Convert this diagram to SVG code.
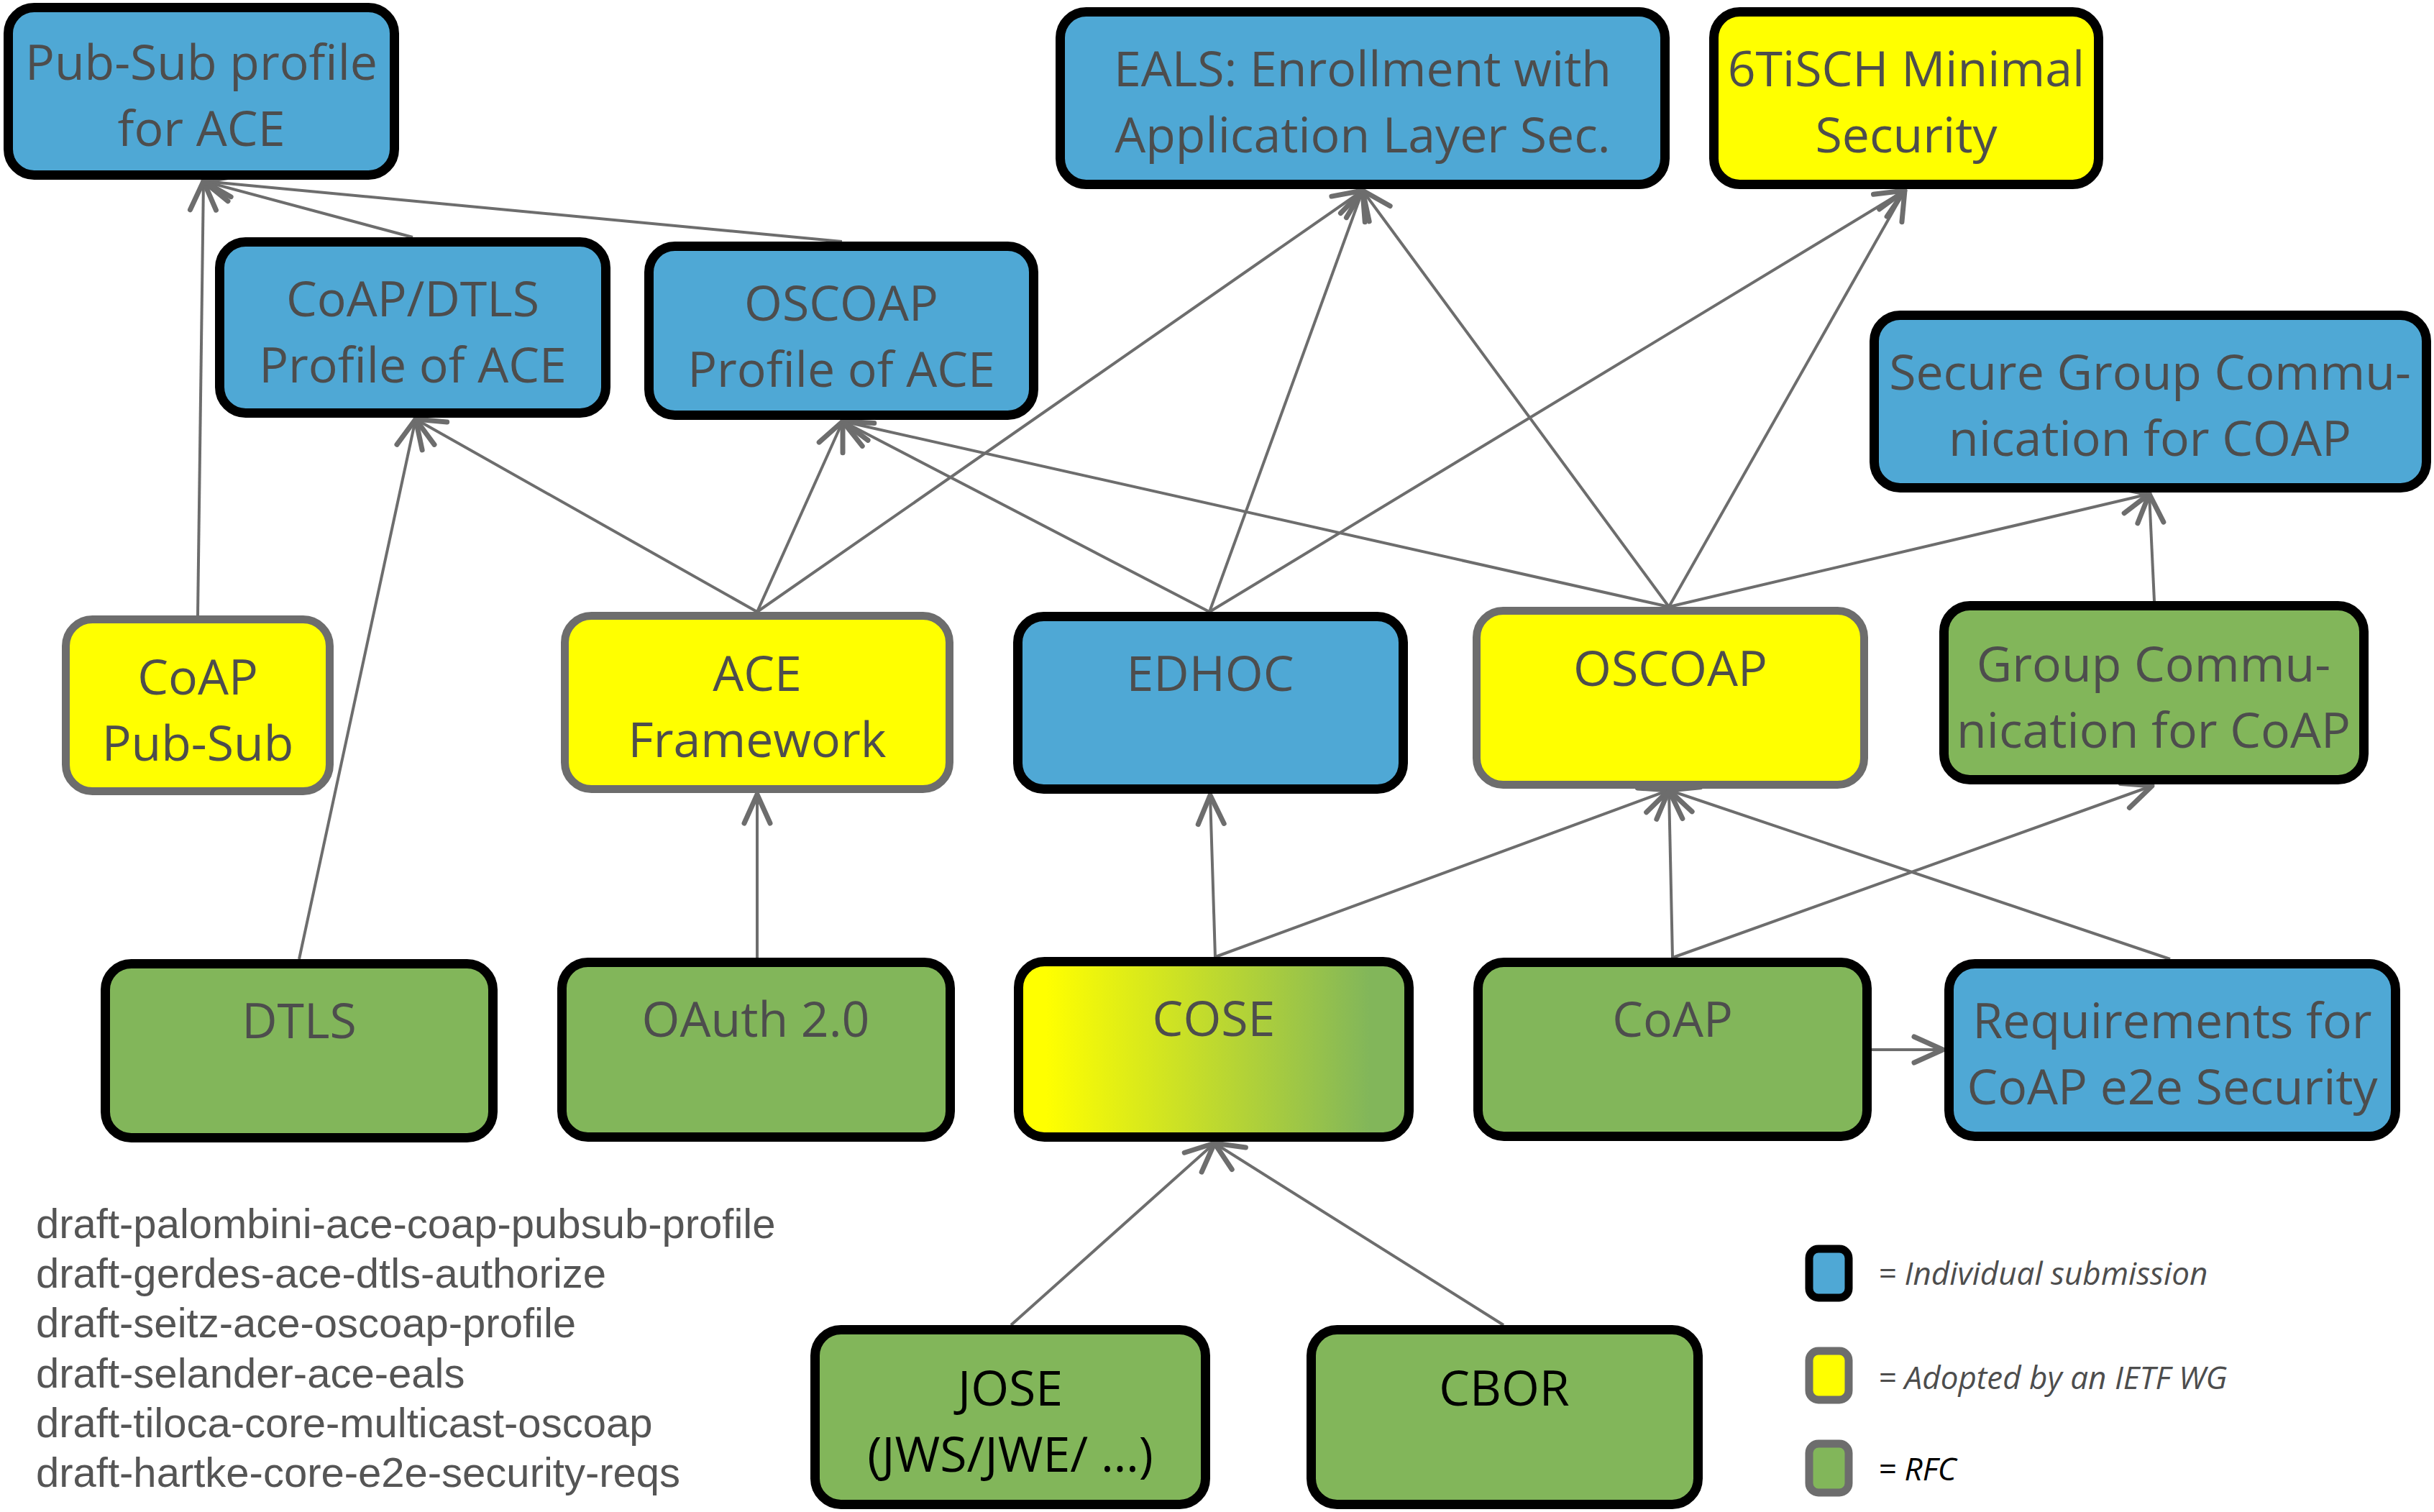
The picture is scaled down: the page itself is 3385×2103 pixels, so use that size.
<svg xmlns="http://www.w3.org/2000/svg" width="3385" height="2103" viewBox="0 0 3385 2103">
<style>
.bx{stroke-width:13}
.blue{fill:#4fa8d5;stroke:#000}
.green{fill:#82b65a;stroke:#000}
.yb{fill:#ffff00;stroke:#000}
.yg{fill:#ffff00;stroke:#6d6d6d;stroke-width:11}
.cose{fill:url(#coseGrad);stroke:#000}
.t{font-family:"Open Sans","Noto Sans",sans-serif;font-size:68px;fill:#4d4d4d;text-anchor:middle}
.tb{fill:#000}
.cn line{stroke:#6d6d6d;stroke-width:4;marker-end:url(#ah)}
.draft{font-family:"Liberation Sans",Arial,sans-serif;font-size:58px;fill:#555}
.lg{font-family:"Open Sans","Noto Sans",sans-serif;font-size:44px;font-style:italic;fill:#4d4d4d}
</style>
<defs>
<linearGradient id="coseGrad" x1="0" y1="0" x2="1" y2="0">
<stop offset="0.07" stop-color="#ffff00"/>
<stop offset="0.9" stop-color="#82b65a"/>
</linearGradient>
<marker id="ah" markerUnits="userSpaceOnUse" markerWidth="100" markerHeight="100" viewBox="-50 -50 100 100" refX="0" refY="0" orient="auto" overflow="visible">
<path d="M-40,-18 L0,0 L-40,18" fill="none" stroke="#6d6d6d" stroke-width="7" stroke-linecap="round" stroke-linejoin="round"/>
</marker>
</defs>
<rect width="3385" height="2103" fill="#fff"/>

<g id="connectors" class="cn">
<line x1="275" y1="856" x2="283" y2="252"/>
<line x1="574" y1="330" x2="283" y2="252"/>
<line x1="1171" y1="336" x2="283" y2="252"/>
<line x1="416" y1="1334" x2="578" y2="583"/>
<line x1="1053" y1="851" x2="578" y2="583"/>
<line x1="1053" y1="851" x2="1172" y2="586"/>
<line x1="1053" y1="851" x2="1895" y2="265"/>
<line x1="1682" y1="851" x2="1172" y2="586"/>
<line x1="1682" y1="851" x2="1895" y2="265"/>
<line x1="2321" y1="844" x2="1895" y2="265"/>
<line x1="1682" y1="851" x2="2649" y2="265"/>
<line x1="2321" y1="844" x2="2649" y2="265"/>
<line x1="2321" y1="844" x2="1172" y2="586"/>
<line x1="2321" y1="844" x2="2989" y2="687"/>
<line x1="2996" y1="836" x2="2989" y2="687"/>
<line x1="1053" y1="1332" x2="1053" y2="1105"/>
<line x1="1690" y1="1331" x2="1683" y2="1106"/>
<line x1="1690" y1="1331" x2="2321" y2="1099"/>
<line x1="2326" y1="1332" x2="2321" y2="1099"/>
<line x1="2326" y1="1332" x2="2993" y2="1093"/>
<line x1="3018" y1="1334" x2="2321" y2="1099"/>
<line x1="2603" y1="1460" x2="2702" y2="1460"/>
<line x1="1406" y1="1843" x2="1689" y2="1590"/>
<line x1="2091" y1="1843" x2="1689" y2="1590"/>
</g>

<g id="pubsub-profile"><rect class="bx blue" x="11.5" y="10.5" width="537" height="233" rx="36"/>
<text class="t" x="280" y="111">Pub-Sub profile</text><text class="t" x="280" y="203">for ACE</text></g>

<g id="coap-dtls-profile"><rect class="bx blue" x="305.5" y="336.5" width="537" height="238" rx="36"/>
<text class="t" x="574" y="440">CoAP/DTLS</text><text class="t" x="574" y="532">Profile of ACE</text></g>

<g id="oscoap-profile"><rect class="bx blue" x="902.5" y="342.5" width="535" height="235" rx="36"/>
<text class="t" x="1170" y="446">OSCOAP</text><text class="t" x="1170" y="538">Profile of ACE</text></g>

<g id="eals"><rect class="bx blue" x="1474.5" y="16.5" width="841" height="240" rx="36"/>
<text class="t" x="1895" y="120">EALS: Enrollment with</text><text class="t" x="1895" y="212">Application Layer Sec.</text></g>

<g id="tisch"><rect class="bx yb" x="2383.5" y="16.5" width="535" height="240" rx="36"/>
<text class="t" x="2651" y="120">6TiSCH Minimal</text><text class="t" x="2651" y="212">Security</text></g>

<g id="secure-group"><rect class="bx blue" x="2606.5" y="438.5" width="768" height="240" rx="36"/>
<text class="t" x="2990" y="542">Secure Group Commu-</text><text class="t" x="2990" y="634">nication for COAP</text></g>

<g id="coap-pubsub"><rect class="yg" x="91.5" y="861.5" width="367" height="239" rx="37"/>
<text class="t" x="275" y="966">CoAP</text><text class="t" x="275" y="1058">Pub-Sub</text></g>

<g id="ace"><rect class="yg" x="785.5" y="856.5" width="535" height="241" rx="37"/>
<text class="t" x="1053" y="961">ACE</text><text class="t" x="1053" y="1053">Framework</text></g>

<g id="edhoc"><rect class="bx blue" x="1415.5" y="857.5" width="536" height="240" rx="36"/>
<text class="t" x="1683" y="961">EDHOC</text></g>

<g id="oscoap"><rect class="yg" x="2053.5" y="849.5" width="539" height="242" rx="37"/>
<text class="t" x="2323" y="954">OSCOAP</text></g>

<g id="group-comm"><rect class="bx green" x="2703.5" y="842.5" width="584" height="242" rx="36"/>
<text class="t" x="2995" y="948">Group Commu-</text><text class="t" x="2995" y="1040">nication for CoAP</text></g>

<g id="dtls"><rect class="bx green" x="146.5" y="1340.5" width="539" height="242" rx="36"/>
<text class="t" x="416" y="1444">DTLS</text></g>

<g id="oauth"><rect class="bx green" x="781.5" y="1338.5" width="540" height="243" rx="36"/>
<text class="t" x="1051" y="1442">OAuth 2.0</text></g>

<g id="cose"><rect class="bx cose" x="1416.5" y="1337.5" width="543" height="244" rx="36"/>
<text class="t" x="1688" y="1441">COSE</text></g>

<g id="coap"><rect class="bx green" x="2055.5" y="1338.5" width="541" height="242" rx="36"/>
<text class="t" x="2326" y="1442">CoAP</text></g>

<g id="requirements"><rect class="bx blue" x="2710.5" y="1340.5" width="621" height="240" rx="36"/>
<text class="t" x="3021" y="1444">Requirements for</text><text class="t" x="3021" y="1536">CoAP e2e Security</text></g>

<g id="jose"><rect class="bx green" x="1133.5" y="1849.5" width="543" height="243" rx="36"/>
<text class="t tb" x="1405" y="1955">JOSE</text><text class="t tb" x="1405" y="2047">(JWS/JWE/ …)</text></g>

<g id="cbor"><rect class="bx green" x="1823.5" y="1849.5" width="538" height="243" rx="36"/>
<text class="t tb" x="2092" y="1955">CBOR</text></g>

<g id="drafts" class="draft">
<text x="50" y="1722">draft-palombini-ace-coap-pubsub-profile</text>
<text x="50" y="1791">draft-gerdes-ace-dtls-authorize</text>
<text x="50" y="1860">draft-seitz-ace-oscoap-profile</text>
<text x="50" y="1930">draft-selander-ace-eals</text>
<text x="50" y="1999">draft-tiloca-core-multicast-oscoap</text>
<text x="50" y="2068">draft-hartke-core-e2e-security-reqs</text>
</g>

<g id="legend">
<rect x="2516" y="1737" width="55" height="68" rx="13" fill="#4fa8d5" stroke="#000" stroke-width="11"/>
<text class="lg" x="2612" y="1787">= Individual submission</text>
<rect x="2516" y="1879" width="55" height="68" rx="13" fill="#ffff00" stroke="#6d6d6d" stroke-width="11"/>
<text class="lg" x="2612" y="1932">= Adopted by an IETF WG</text>
<rect x="2516" y="2008" width="55" height="68" rx="13" fill="#82b65a" stroke="#6d6d6d" stroke-width="11"/>
<text class="lg" x="2612" y="2059" style="fill:#000">= RFC</text>
</g>
</svg>
